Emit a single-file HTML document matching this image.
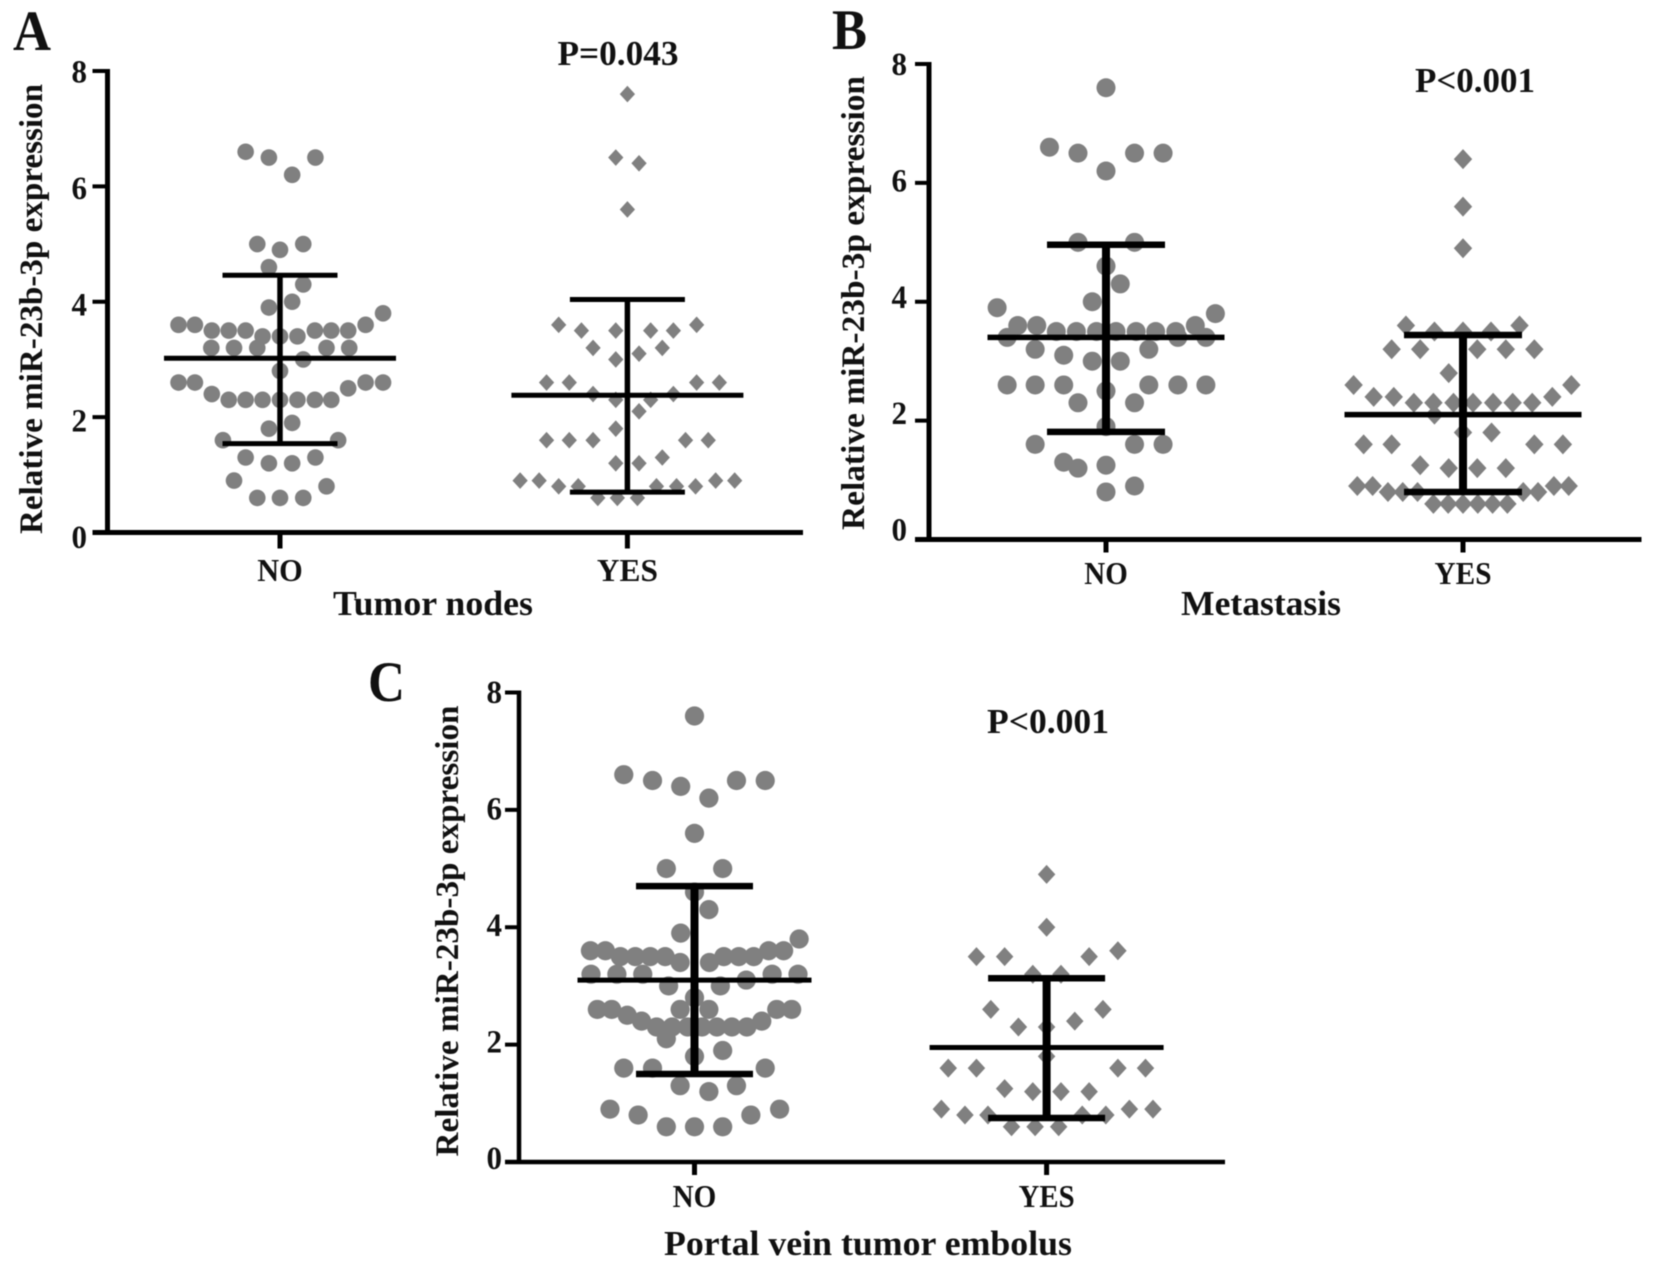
<!DOCTYPE html>
<html lang="en">
<head>
<meta charset="utf-8">
<title>Relative miR-23b-3p expression</title>
<style>
html,body{margin:0;padding:0;background:#fff;}
svg{display:block;filter:blur(0.6px);}
text{font-family:"Liberation Serif",serif;font-weight:bold;fill:#111;}
</style>
</head>
<body>
<svg id="figure" width="1654" height="1267" viewBox="0 0 1654 1267" xmlns="http://www.w3.org/2000/svg">
<rect width="1654" height="1267" fill="#fff"/>

<text x="13" y="50" font-size="57" textLength="38" lengthAdjust="spacingAndGlyphs">A</text>
<text transform="translate(42 309) rotate(-90)" text-anchor="middle" font-size="33" textLength="450" lengthAdjust="spacingAndGlyphs">Relative miR-23b-3p expression</text>
<text x="433" y="615" text-anchor="middle" font-size="35" textLength="200" lengthAdjust="spacingAndGlyphs">Tumor nodes</text>
<text x="618" y="65" text-anchor="middle" font-size="35" textLength="121" lengthAdjust="spacingAndGlyphs">P=0.043</text>

<text x="832" y="49" font-size="57" textLength="35" lengthAdjust="spacingAndGlyphs">B</text>
<text transform="translate(864 303) rotate(-90)" text-anchor="middle" font-size="33" textLength="454" lengthAdjust="spacingAndGlyphs">Relative miR-23b-3p expression</text>
<text x="1261" y="615" text-anchor="middle" font-size="35" textLength="160" lengthAdjust="spacingAndGlyphs">Metastasis</text>
<text x="1475" y="92" text-anchor="middle" font-size="35" textLength="120" lengthAdjust="spacingAndGlyphs">P&lt;0.001</text>

<text x="368" y="701" font-size="57" textLength="37" lengthAdjust="spacingAndGlyphs">C</text>
<text transform="translate(458 931) rotate(-90)" text-anchor="middle" font-size="33" textLength="451" lengthAdjust="spacingAndGlyphs">Relative miR-23b-3p expression</text>
<text x="868" y="1255" text-anchor="middle" font-size="35" textLength="408" lengthAdjust="spacingAndGlyphs">Portal vein tumor embolus</text>
<text x="1048" y="733" text-anchor="middle" font-size="35" textLength="122" lengthAdjust="spacingAndGlyphs">P&lt;0.001</text>
</svg>

<script>
var yTickLabels = [0, 2, 4, 6, 8];
var categories = ['NO', 'YES'];

var aNoValues = [6.6,6.5,6.5,6.2,5.0,5.0,4.9,4.6,4.3,4.0,3.9,3.8,3.6,3.6,3.6,3.5,3.5,3.5,3.5,3.5,3.5,3.4,3.4,3.4,3.2,3.2,3.2,3.2,3.2,3.0,2.8,2.6,2.6,2.6,2.6,2.5,2.4,2.3,2.3,2.3,2.3,2.3,2.3,2.3,1.9,1.8,1.6,1.6,1.3,1.3,1.2,1.2,0.9,0.8,0.6,0.6,0.6];
var aNoSwarm  = [-65,-21,67,23,-43,44,0,-21,44,23,-21,195,-192,-161,162,-129,-97,-65,66,97,129,-33,0,33,-130,-87,-43,88,131,44,0,-192,-161,162,195,129,-129,-97,-65,-33,0,33,66,97,23,-21,-108,110,-65,67,-21,23,-87,88,-43,0,44];
var aYesValues = [7.6,6.5,6.4,5.6,3.6,3.6,3.5,3.5,3.5,3.5,3.2,3.2,3.1,3.0,2.6,2.6,2.6,2.6,2.4,2.4,2.3,2.3,2.1,1.8,1.6,1.6,1.6,1.6,1.6,1.3,1.2,1.2,0.9,0.9,0.9,0.9,0.8,0.8,0.8,0.8,0.8,0.6,0.6,0.6];
var aYesSwarm  = [0,-22,22,0,-130,131,-87,-22,44,87,-65,66,22,-22,-153,-110,131,174,-65,87,-22,44,22,-22,-153,-110,-65,110,153,66,-22,22,-203,-167,167,203,-130,-93,55,93,129,-56,-19,19];
var aMeans = [3.02, 2.38];
var aUpper = [4.46, 4.04];
var aLower = [1.54, 0.70];

var bNoValues = [7.6,6.6,6.5,6.5,6.5,6.2,5.0,5.0,4.6,4.3,4.0,3.9,3.8,3.6,3.6,3.6,3.5,3.5,3.5,3.5,3.5,3.5,3.5,3.4,3.4,3.4,3.2,3.2,3.1,3.0,3.0,2.6,2.6,2.6,2.6,2.6,2.6,2.5,2.3,2.3,1.9,1.6,1.6,1.6,1.3,1.25,1.2,0.9,0.8];
var bNoSwarm  = [0,-107,-53,54,108,0,-53,54,0,27,-26,-206,207,-167,-131,169,-94,-56,-18,19,57,94,132,-187,136,189,-134,81,-80,-26,27,-187,-134,-80,81,136,189,0,-53,54,0,-134,54,108,-80,0,-53,54,0];
var bYesValues = [6.4,5.6,4.9,3.6,3.6,3.5,3.5,3.5,3.2,3.2,3.2,3.2,3.2,2.8,2.6,2.6,2.4,2.4,2.4,2.3,2.3,2.3,2.3,2.3,2.3,2.3,2.1,1.8,1.8,1.6,1.6,1.6,1.6,1.25,1.2,1.2,1.2,0.9,0.9,0.9,0.9,0.8,0.8,0.8,0.8,0.8,0.6,0.6,0.6,0.6,0.6,0.6];
var bYesSwarm  = [0,0,0,-108,107,-54,0,53,-135,-81,27,81,135,-27,-207,205,-169,-131,169,-93,-56,-18,19,57,94,131,-54,0,54,-188,-135,135,189,-81,-27,27,81,-200,-171,172,200,-142,-114,-86,114,142,-56,-28,0,28,56,84];
var bMeans = [3.40, 2.10];
var bUpper = [4.96, 3.44];
var bLower = [1.81, 0.80];

var cNoValues = [7.6,6.6,6.5,6.5,6.5,6.4,6.2,5.6,5.0,5.0,4.6,4.3,3.9,3.8,3.6,3.6,3.6,3.6,3.5,3.5,3.5,3.5,3.5,3.5,3.5,3.4,3.4,3.2,3.2,3.2,3.2,3.2,3.1,3.0,3.0,2.8,2.6,2.6,2.6,2.6,2.6,2.6,2.5,2.4,2.4,2.3,2.3,2.3,2.3,2.3,2.3,2.3,2.1,1.9,1.8,1.6,1.6,1.6,1.3,1.3,1.2,0.9,0.9,0.8,0.8,0.6,0.6,0.6];
var cNoSwarm  = [0,-123,-73,73,123,-24,25,0,-49,49,0,25,-24,182,-181,-155,129,155,-129,-103,-77,-51,51,77,103,-25,26,-180,-135,-90,135,180,90,-45,45,0,-169,-144,-25,25,143,169,-117,-92,117,-66,-39,-12,13,39,65,91,-49,49,0,-123,-73,123,-25,73,25,-147,148,-98,98,-49,0,49];
var cYesValues = [4.9,4.0,3.6,3.5,3.5,3.5,3.2,3.2,2.6,2.6,2.4,2.3,2.3,1.8,1.6,1.6,1.6,1.6,1.25,1.2,1.2,1.2,0.9,0.9,0.9,0.8,0.8,0.8,0.8,0.6,0.6,0.6];
var cYesSwarm  = [0,0,124,-122,-73,74,-24,25,-97,98,49,-49,0,0,-171,-122,124,172,-73,-24,25,74,-183,144,185,-142,-102,62,103,-61,-20,21];
var cMeans = [3.10, 1.95];
var cUpper = [4.70, 3.13];
var cLower = [1.50, 0.75];

var SVG_NS = 'http://www.w3.org/2000/svg';
var figure = document.getElementById('figure');

function makeEl(tag, parent) {
  var el = document.createElementNS(SVG_NS, tag);
  parent.appendChild(el);
  return el;
}

function drawLine(parent, name, x1, y1, x2, y2, width) {
  var el = makeEl('line', parent);
  
  
  el.setAttribute('x1', x1);
  el.setAttribute('y1', y1);
  el.setAttribute('x2', x2);
  el.setAttribute('y2', y2);
  el.setAttribute('stroke', '#000');
  el.setAttribute('stroke-width', width);
  return el;
}

function drawPanel(p) {
  function yScale(v) { return p.y0 + (p.y8 - p.y0) * v / 8; }
  function xScale(cat, swarm) { return p.catX[cat] + swarm * p.swarmUnit; }
  function labelY(t) { return p.labelY0 + (p.labelY8 - p.labelY0) * t / 8; }

  var panel = makeEl('g', figure);
  
  

  p.groups.forEach(function (g, cat) {
    var seriesGroup = makeEl('g', panel);
    
    
    g.values.forEach(function (v, i) {
      var cx = xScale(cat, g.swarm[i]);
      var cy = yScale(v);
      var mark;
      if (cat === 0) {
        mark = makeEl('ellipse', seriesGroup);
        
        
        mark.setAttribute('cx', cx);
        mark.setAttribute('cy', cy);
        mark.setAttribute('rx', p.circleR);
        mark.setAttribute('ry', p.circleR);
      } else {
        mark = makeEl('polygon', seriesGroup);
        
        
        var d = p.diamondR;
        mark.setAttribute('points', cx + ',' + (cy - d) + ' ' + (cx + d * 0.92) + ',' + cy + ' ' + cx + ',' + (cy + d) + ' ' + (cx - d * 0.92) + ',' + cy);
      }
      mark.setAttribute('fill', '#808080');
    });
  });

  categories.forEach(function (name, cat) {
    var x = p.catX[cat];
    var key = name.toLowerCase();
    drawLine(panel, 'error-bar-' + key, x, yScale(p.upper[cat]), x, yScale(p.lower[cat]), p.barWidth);
    drawLine(panel, 'upper-cap-' + key, x - p.capHalf, yScale(p.upper[cat]), x + p.capHalf, yScale(p.upper[cat]), p.capWidth);
    drawLine(panel, 'lower-cap-' + key, x - p.capHalf, yScale(p.lower[cat]), x + p.capHalf, yScale(p.lower[cat]), p.capWidth);
    drawLine(panel, 'mean-line-' + key, x - p.meanHalf, yScale(p.means[cat]), x + p.meanHalf, yScale(p.means[cat]), p.meanWidth);
  });

  drawLine(panel, 'y-axis-line', p.axisX, p.y8 - 2, p.axisX, p.y0 + 2, p.axisWidth);
  drawLine(panel, 'x-axis-line', p.tickLeft, p.y0, p.axisEnd, p.y0, p.axisWidth);

  yTickLabels.forEach(function (t) {
    var y = yScale(t);
    if (t !== 0) {
      drawLine(panel, 'y-tick-' + t, p.tickLeft, y, p.axisX, y, 4);
    }
    var label = makeEl('text', panel);
    
    
    label.setAttribute('x', p.tickLabelX);
    label.setAttribute('y', labelY(t));
    label.setAttribute('text-anchor', 'end');
    label.setAttribute('font-size', '33');
    label.setAttribute('textLength', '15.5');
    label.setAttribute('lengthAdjust', 'spacingAndGlyphs');
    label.textContent = t;
  });

  categories.forEach(function (name, cat) {
    var x = p.catX[cat];
    drawLine(panel, 'x-tick-' + name.toLowerCase(), x, p.y0, x, p.y0 + p.tickLen, 5);
    var label = makeEl('text', panel);
    
    
    label.setAttribute('x', x);
    label.setAttribute('y', p.catLabelY);
    label.setAttribute('text-anchor', 'middle');
    label.setAttribute('font-size', '32');
    label.setAttribute('textLength', p.catLabelWidth[cat]);
    label.setAttribute('lengthAdjust', 'spacingAndGlyphs');
    label.textContent = name;
  });
}

drawPanel({
  id: 'a', y0: 532.5, y8: 71, axisX: 107.5, tickLeft: 92.5, axisEnd: 803, axisWidth: 5, tickLen: 16,
  catX: [280, 627.4], swarmUnit: 0.5285, tickLabelX: 87, catLabelY: 581, catLabelWidth: [45.5, 61],
  labelY0: 548, labelY8: 82.5,
  circleR: 8.3, diamondR: 8.3, barWidth: 5.5, capWidth: 5, meanWidth: 5, capHalf: 57.5, meanHalf: 116,
  groups: [{ values: aNoValues, swarm: aNoSwarm }, { values: aYesValues, swarm: aYesSwarm }],
  means: aMeans, upper: aUpper, lower: aLower
});
drawPanel({
  id: 'b', y0: 539.5, y8: 64, axisX: 929, tickLeft: 915, axisEnd: 1641.5, axisWidth: 5, tickLen: 13,
  catX: [1106, 1463], swarmUnit: 0.5285, tickLabelX: 907, catLabelY: 584, catLabelWidth: [43.5, 57],
  labelY0: 540.5, labelY8: 75,
  circleR: 9.5, diamondR: 10, barWidth: 8, capWidth: 6.5, meanWidth: 5.5, capHalf: 59, meanHalf: 118.5,
  groups: [{ values: bNoValues, swarm: bNoSwarm }, { values: bYesValues, swarm: bYesSwarm }],
  means: bMeans, upper: bUpper, lower: bLower
});
drawPanel({
  id: 'c', y0: 1162, y8: 692.5, axisX: 519, tickLeft: 505, axisEnd: 1225, axisWidth: 4.5, tickLen: 13,
  catX: [694.5, 1046.6], swarmUnit: 0.575, tickLabelX: 502, catLabelY: 1207, catLabelWidth: [43.7, 56],
  labelY0: 1169, labelY8: 703,
  circleR: 9.6, diamondR: 9.5, barWidth: 8, capWidth: 6.5, meanWidth: 5, capHalf: 58.5, meanHalf: 117,
  groups: [{ values: cNoValues, swarm: cNoSwarm }, { values: cYesValues, swarm: cYesSwarm }],
  means: cMeans, upper: cUpper, lower: cLower
});
</script>
</body>
</html>
